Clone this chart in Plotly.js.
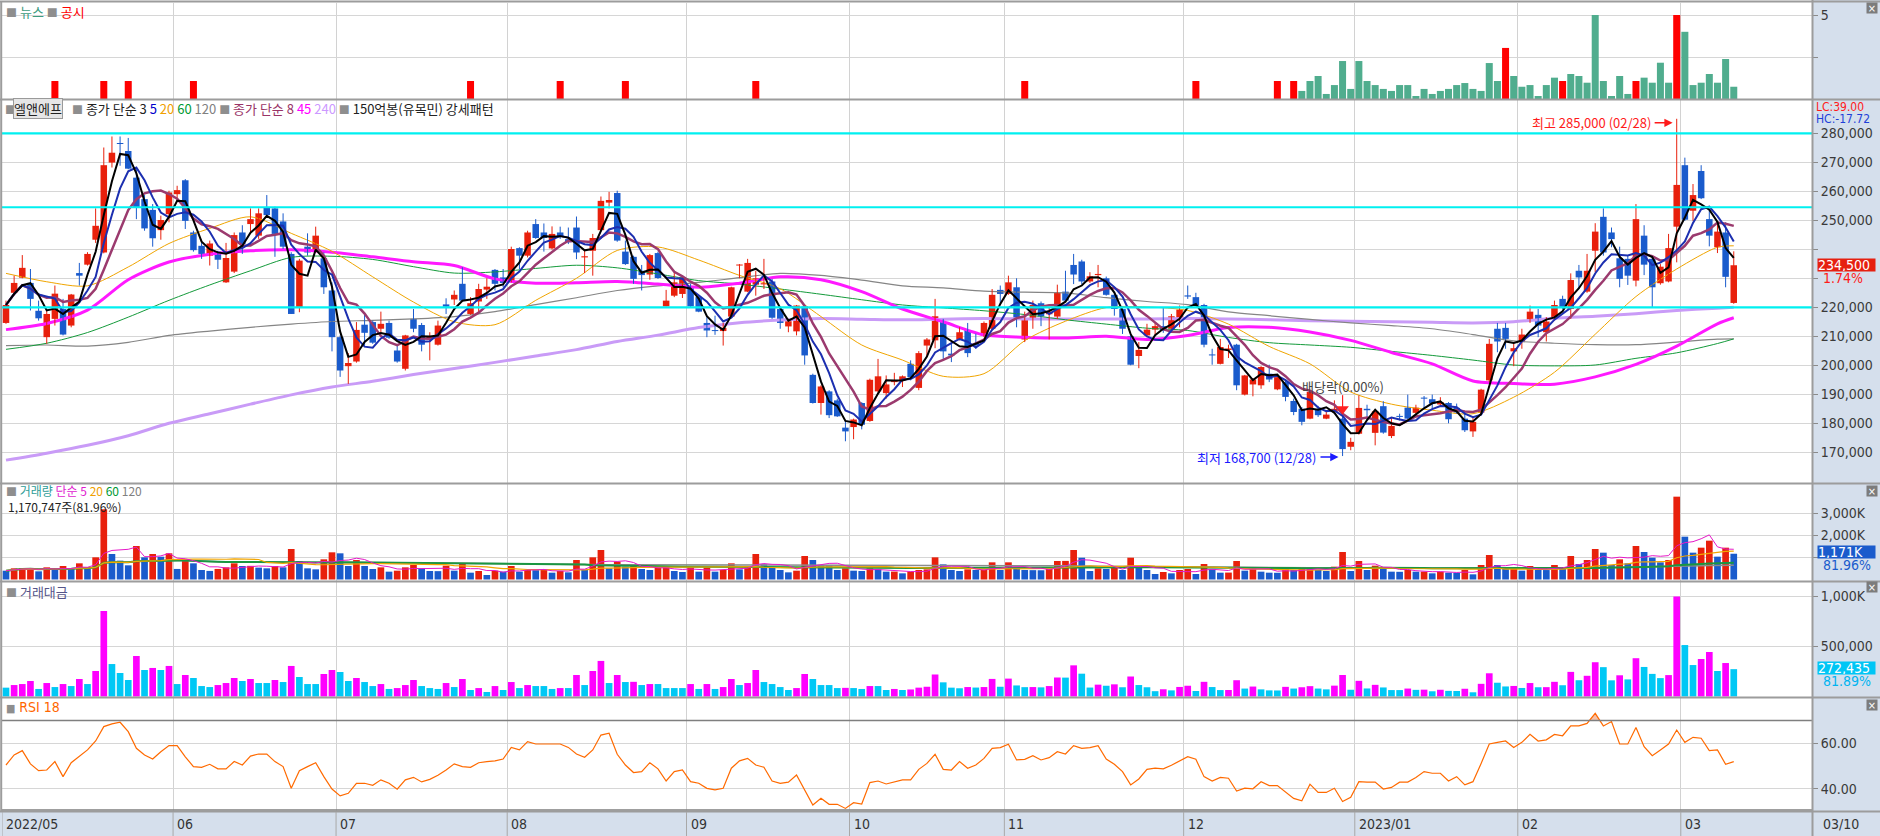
<!DOCTYPE html>
<html><head><meta charset="utf-8">
<script src="https://cdn.plot.ly/plotly-3.0.1.min.js"></script>
<style>html,body{margin:0;padding:0;background:#fff;}#chart{width:1880px;height:836px;}</style>
</head><body><div id="chart"></div>
<script>
// ---------------- DATA (prices in thousand won, volume in thousand shares, value in million won /1000) -------------
const monthStart = [0,21,41,62,84,104,123,145,166,186,206];
const monthLabels = ['2022/05','06','07','08','09','10','11','12','2023/01','02','03'];

const openP = [214.6,225.0,230.2,228.4,218.8,209.7,216.0,219.4,213.7,231.8,
234.7,243.3,238.9,269.9,276.6,273.9,264.7,257.3,253.6,246.6,
252.1,259.0,263.8,245.8,241.2,237.8,239.2,228.6,232.3,245.8,
248.7,244.7,254.4,254.1,249.6,238.4,220.0,240.9,239.5,236.9,
225.8,209.7,199.7,201.3,214.0,214.9,212.6,214.6,205.1,198.8,
216.0,213.9,208.9,207.1,221.0,222.7,228.1,217.7,222.0,226.1,
232.9,230.3,228.9,240.4,237.8,248.7,245.8,240.3,245.8,243.5,
247.5,237.2,239.5,246.6,256.1,259.4,239.2,237.4,232.6,231.3,
238.7,220.3,224.0,224.6,226.6,223.5,214.6,212.0,211.8,216.8,
234.4,225.4,227.8,227.9,228.9,219.4,213.4,211.7,220.3,196.7,
187.0,191.0,187.9,178.5,178.7,187.0,180.8,191.0,190.4,194.2,
194.8,200.5,192.2,206.8,208.6,214.9,204.0,208.9,212.2,207.7,
210.3,212.6,226.0,224.6,226.9,208.9,215.8,221.4,217.6,216.8,
225.4,234.6,235.8,228.9,231.1,230.0,224.3,219.4,210.0,203.2,
210.3,212.3,213.5,212.6,216.2,224.1,223.5,220.8,203.7,200.5,
205.3,207.1,189.9,193.4,193.1,197.1,191.7,194.2,187.7,185.0,
181.6,184.7,181.6,183.9,181.6,171.9,176.4,185.0,176.7,185.9,
175.6,182.4,185.4,183.6,188.8,188.3,186.5,187.0,185.3,181.6,
177.2,183.7,194.8,212.6,212.9,204.8,208.2,215.8,217.4,211.4,
216.0,222.9,219.4,232.6,225.4,239.5,251.2,245.8,236.9,236.7,
229.2,244.7,236.7,228.3,228.9,247.8,269.0,253.3,267.0,250.4,
240.7,245.8,221.5];
const highP = [222.3,230.9,238.0,233.2,222.3,218.9,227.5,222.9,224.6,235.3,
239.0,254.1,275.1,278.9,278.9,278.4,267.6,258.7,255.6,251.6,
260.2,261.9,264.2,246.4,242.4,243.0,239.5,242.2,245.8,248.3,
254.1,254.1,258.7,254.7,252.4,239.0,236.7,245.5,247.8,238.9,
228.6,210.3,204.2,214.9,217.7,215.4,218.5,215.4,206.8,210.5,
219.4,214.6,211.4,215.4,223.1,225.8,233.8,223.5,228.1,230.0,
233.2,233.2,240.9,240.7,246.4,250.4,248.9,247.9,247.8,247.5,
251.3,239.5,245.3,258.2,259.8,260.2,243.0,237.8,234.6,238.4,
239.2,226.0,232.1,230.9,228.1,224.0,216.6,217.1,214.6,227.1,
234.9,236.7,232.6,236.7,229.8,220.0,216.0,220.8,220.6,197.1,
193.1,191.4,188.5,181.0,181.6,187.3,195.4,202.2,196.5,197.4,
196.5,201.7,204.9,209.4,222.9,216.0,207.4,213.1,214.6,210.9,
215.1,226.3,227.5,230.9,230.0,218.5,222.3,222.0,220.0,227.8,
232.6,238.4,236.4,232.1,234.6,230.6,224.6,220.3,210.5,208.0,
214.3,214.9,219.7,217.7,220.6,227.5,225.0,221.2,205.7,209.1,
207.1,207.4,196.7,195.6,199.7,200.2,196.5,194.8,188.5,185.6,
191.4,186.0,184.5,187.9,183.9,175.0,189.6,186.4,184.5,187.6,
181.8,183.3,189.9,186.4,189.4,189.9,189.0,187.3,186.8,183.9,
182.2,191.9,209.1,214.6,214.6,208.0,212.6,220.6,219.4,216.6,
222.3,224.0,231.7,234.6,238.4,249.0,254.1,247.5,240.9,237.8,
255.6,248.3,237.2,234.9,245.3,285.0,271.6,262.5,269.0,253.9,
249.3,249.3,239.3];
const lowP = [214.3,224.0,230.0,218.9,215.4,207.4,213.7,210.3,213.1,227.5,
234.4,242.2,238.6,268.2,268.8,267.6,250.4,246.4,240.9,243.3,
249.3,256.7,247.0,239.2,236.7,234.4,233.2,228.4,231.8,238.4,
245.8,243.6,251.4,237.4,240.1,217.7,218.3,237.8,238.9,224.6,
204.8,196.0,193.6,200.9,206.8,207.4,211.4,209.1,200.9,198.2,
211.4,204.8,201.7,206.8,217.7,220.8,222.0,217.4,218.3,222.9,
225.8,226.9,228.6,233.2,237.2,243.6,239.2,239.9,243.6,241.8,
236.6,231.8,230.9,246.1,254.1,242.6,234.6,228.1,225.8,229.5,
229.8,220.3,223.5,223.2,220.0,218.3,209.7,210.5,206.8,216.6,
230.0,225.2,224.0,226.3,216.0,212.6,211.4,210.3,200.2,186.8,
183.0,181.8,182.2,173.8,174.5,177.9,180.5,190.6,188.5,193.1,
192.5,194.8,191.4,203.2,205.9,202.2,201.1,208.6,202.8,205.7,
209.7,212.3,221.2,224.3,213.1,208.0,212.6,213.5,208.9,216.0,
222.0,228.0,228.0,228.4,226.9,224.0,217.1,210.8,200.0,199.0,
209.7,210.5,211.2,212.3,213.1,222.9,220.4,206.2,200.2,200.3,
202.5,191.4,189.6,189.3,191.9,194.2,191.4,187.6,182.8,179.3,
181.4,182.2,181.4,183.7,168.7,170.7,176.1,181.0,172.4,176.4,
174.9,181.0,181.4,182.8,185.3,185.0,186.2,180.0,183.3,177.0,
175.3,183.3,194.2,204.5,205.7,199.7,205.7,214.6,209.7,208.2,
215.4,219.4,216.0,226.3,225.0,232.1,237.8,240.7,226.9,227.7,
227.2,231.1,220.0,227.8,228.6,235.5,249.8,249.8,257.3,241.0,
238.7,226.9,221.2];
const closeP = [220.8,228.4,233.6,222.9,216.2,217.7,224.7,210.6,224.4,230.9,
238.4,248.1,269.0,273.3,276.3,267.8,254.4,247.2,243.8,250.1,
259.6,260.4,249.8,239.7,238.4,242.0,236.4,237.0,244.9,241.8,
250.4,252.4,251.8,245.3,240.9,217.7,236.1,238.9,244.7,226.9,
209.7,198.2,200.8,212.2,211.2,207.8,214.3,209.5,201.3,210.3,
212.6,207.1,210.0,213.7,220.2,224.3,222.3,221.4,226.3,227.1,
228.1,228.4,240.1,237.8,245.8,243.9,243.9,245.3,244.4,242.4,
238.9,237.6,243.9,256.7,257.0,243.0,234.9,229.8,231.1,238.0,
230.1,222.3,228.6,230.3,220.3,218.5,212.0,211.8,212.9,226.9,
234.6,235.3,230.0,228.3,216.4,214.6,215.2,220.6,203.4,187.0,
192.7,182.8,182.4,177.2,181.3,179.5,195.0,196.2,193.4,194.6,
196.2,195.9,204.2,208.9,216.9,204.8,203.4,211.4,204.2,206.8,
214.6,224.3,224.6,228.6,215.8,216.2,220.8,216.9,218.5,225.0,
222.3,231.3,228.9,230.7,231.5,224.3,219.4,212.6,200.2,205.3,
212.3,213.5,212.0,216.9,219.2,223.7,220.6,207.1,203.4,206.3,
205.8,193.1,196.5,195.1,199.4,195.1,195.9,189.1,183.9,180.5,
190.8,182.8,183.0,185.0,171.1,173.6,185.3,184.5,184.1,176.8,
179.1,182.2,181.6,185.4,188.5,186.8,187.3,181.4,183.7,177.6,
180.5,191.6,207.4,208.2,209.1,205.9,210.6,218.5,213.7,215.1,
220.8,220.0,229.4,230.3,232.6,246.1,238.9,243.5,229.8,230.9,
250.4,234.7,226.9,234.0,240.4,262.2,250.2,258.7,257.6,244.7,
246.1,230.5,234.5];
const volumeK = [400,508,512,515,371,553,432,614,492,735,
508,1009,3191,1160,857,645,1523,1009,1160,1036,
1190,480,840,735,432,390,480,553,735,614,
620,540,508,614,553,1386,840,508,462,917,
1236,1190,614,886,614,477,553,356,401,553,
659,508,386,380,629,401,735,310,386,205,
401,356,614,356,432,425,462,310,386,325,
886,432,1009,1342,508,811,583,620,477,432,
538,583,386,341,553,356,538,356,432,735,
462,583,1160,689,553,432,325,401,1069,886,
659,650,432,508,401,386,508,462,356,360,
280,356,432,462,1008,689,432,386,462,432,
440,780,432,780,508,432,425,420,477,841,
845,1341,992,386,508,477,553,432,992,553,
432,250,341,280,432,477,250,705,462,310,
315,841,401,508,356,310,305,508,432,508,
538,432,386,583,1251,386,841,432,629,508,
356,350,432,356,360,280,356,310,300,432,
235,659,1114,659,480,508,401,614,432,430,
659,508,1069,705,886,1386,1220,659,917,735,
1523,1251,992,780,886,3765,1947,1220,1447,1765,
1039,1447,1171];
const tradeValueK = [88,114,124,154,75,134,94,124,104,174,
124,254,851,323,234,164,403,264,284,264,
304,124,214,184,104,94,114,134,184,154,
174,134,134,164,144,304,194,124,124,224,
264,244,154,184,144,104,124,75,84,114,
164,104,84,75,134,94,174,65,84,45,
104,65,144,84,114,104,104,75,84,84,
214,114,254,354,134,214,144,146,114,124,
124,84,84,84,124,75,124,75,94,174,
114,134,264,144,124,94,65,84,224,174,
114,114,84,86,84,75,104,104,65,75,
65,70,88,97,219,141,88,82,94,89,
94,175,97,178,110,93,94,91,104,189,
188,310,227,89,118,107,121,92,199,114,
92,53,72,61,95,107,55,146,94,64,
65,162,79,99,71,61,60,96,79,92,
103,79,71,108,214,67,156,80,116,90,
64,64,79,66,68,52,67,56,55,77,
42,126,231,137,100,105,85,134,92,93,
146,112,245,162,206,341,292,161,211,170,
381,294,225,183,213,995,512,313,373,443,
254,333,272];
const rsi18 = [50.5,54.9,56.8,51.0,48.0,48.3,52.0,45.4,51.5,54.4,
57.1,61.0,67.3,68.5,69.2,65.1,57.8,54.9,53.1,56.3,
59.0,59.0,54.1,49.8,49.5,50.8,48.8,48.8,52.0,50.5,
54.4,55.3,55.3,52.0,49.8,40.3,48.0,49.8,51.5,45.4,
40.0,37.0,38.1,42.5,42.5,41.6,44.0,42.5,39.9,44.0,
45.1,43.1,44.2,46.0,48.3,51.0,49.8,49.5,51.5,52.0,
52.3,53.1,58.2,57.1,60.7,59.7,59.7,60.0,59.7,58.2,
55.3,53.9,57.1,63.6,64.4,55.2,50.5,47.2,47.6,51.5,
48.8,43.5,47.6,48.3,43.2,42.5,40.3,39.6,40.3,49.1,
52.3,53.4,50.5,49.5,43.5,42.5,43.0,46.1,39.6,33.0,
35.9,33.3,33.3,31.5,34.0,33.4,42.8,43.5,42.2,43.2,
44.0,44.0,48.6,51.2,55.2,48.6,48.3,52.0,49.1,50.5,
53.4,57.8,58.1,59.6,52.7,53.0,54.6,52.7,53.7,56.3,
55.3,59.0,57.8,58.1,59.0,53.1,50.8,47.6,41.8,44.4,
48.6,49.1,48.8,50.4,52.3,54.1,53.0,45.4,43.5,45.1,
44.7,39.1,40.4,40.1,43.2,41.5,41.5,38.5,35.9,34.8,
42.1,38.5,38.5,40.3,34.5,36.4,43.2,43.0,43.0,40.0,
40.7,43.0,43.0,45.0,47.6,46.9,46.9,43.5,45.4,41.8,
43.2,51.2,59.7,60.4,61.0,58.2,60.4,63.9,61.0,61.5,
63.9,63.3,67.6,67.6,68.7,73.1,67.6,69.5,59.7,59.7,
66.9,58.5,54.6,57.1,59.7,65.8,60.4,62.6,62.2,56.8,
57.1,50.8,52.0];

// long moving averages at sample bars
const maSampleIdx = [0,5,10,15,20,25,30,35,40,45,50,55,60,65,70,75,80,85,90,95,100,105,110,115,120,125,130,135,140,145,150,155,160,165,170,175,180,185,190,195,200,205,210,212];
const ma20 = [231.7,228.8,227.4,233.9,242.0,247.2,251.2,245.5,239.3,230.5,221.8,215.0,214.0,222.4,230.0,239.6,240.8,236.3,231.0,226.4,216.8,207.0,201.8,196.2,197.1,208.5,215.2,219.9,220.1,218.9,214.2,206.5,200.5,190.8,186.6,184.5,183.3,189.0,197.6,210.7,223.7,233.2,240.7,241.2];
const ma45 = [212.3,214.4,219.0,229.5,235.6,238.3,239.5,239.8,239.0,237.4,235.7,234.4,229.8,228.3,228.5,228.9,228.0,226.9,228.3,230.5,229.5,225.4,219.4,215.0,210.5,209.7,209.4,210.0,208.9,210.3,213.0,213.1,211.5,208.6,204.4,200.5,194.6,193.7,193.5,196.0,200.3,206.6,214.3,216.4];
const ma60 = [205.5,207.6,211.3,216.6,222.4,227.7,232.6,237.2,237.6,236.5,234.0,231.8,232.2,233.4,234.5,233.6,231.5,229.2,228.0,226.3,224.5,222.6,220.8,219.8,218.8,217.5,215.7,214.2,212.8,212.0,209.6,207.8,207.0,206.2,204.8,203.4,201.8,200.1,199.8,200.1,202.4,204.3,207.5,209.1];
const ma120 = [206.8,207.0,206.6,207.9,210.3,211.8,213.1,214.2,215.1,215.5,216.0,216.8,218.5,220.9,223.3,225.8,227.4,228.6,230.2,231.7,231.0,229.4,227.4,226.7,225.6,225.2,225.0,223.3,222.0,220.9,218.4,217.1,215.8,214.6,213.7,212.6,210.6,208.4,207.6,207.1,207.1,208.0,209.0,209.1];
const ma240 = [167.3,169.7,172.4,175.7,180.0,183.3,186.6,189.8,192.5,194.5,196.8,198.9,201.0,203.2,205.4,208.2,210.4,213.0,214.7,215.6,216.1,215.9,215.7,215.9,216.1,216.0,216.0,216.0,216.0,216.1,216.0,215.7,215.4,215.2,215.0,214.8,214.6,215.0,216.2,216.9,217.8,218.9,219.7,220.0];

// horizontal reference lines (price, thousand won)
const levelLines = [280.0, 254.5, 220.0];

// news / disclosure counts (bar heights as drawn)
const noticeIdx = [6,12,15,23,57,68,76,92,125,146,156,158,184,191,200,205];
const noticeH   = [1.07,1.07,1.07,1.07,1.07,1.07,1.07,1.07,1.07,1.07,1.07,1.07,3.04,1.07,1.07,5.0];
const newsIdx = [159,160,161,162,163,164,165,166,167,168,169,170,171,172,173,174,175,176,177,178,179,180,181,182,183,
185,186,187,188,189,190,192,193,194,195,196,197,198,199,201,202,203,204,206,207,208,209,210,211,212];
const newsH = [0.48,1.07,1.37,0.30,0.83,2.26,0.60,2.26,1.07,0.83,0.60,0.48,0.83,0.83,0.18,0.60,0.30,0.48,0.60,0.83,0.95,0.60,0.48,2.14,1.07,
1.37,0.73,0.83,0.18,0.83,1.27,1.49,1.37,0.97,5.0,1.07,0.18,1.37,0.30,1.27,0.97,2.16,0.97,4.0,0.83,0.97,1.49,0.97,2.38,0.73];

const exDivIdx = 164;

// ---------------- CHART ----------------
const W = 1880, H = 836;
const n = closeP.length;
const idx = Array.from({length:n}, (_, i) => i);
const UP = '#e8200c', DN = '#1a5bcc';
const NUMFONT = "'Liberation Sans Narrow','DejaVu Sans Condensed','Arial Narrow',sans-serif";
const KFONT = "'Noto Sans CJK KR','Noto Sans',sans-serif";

function sma(arr, p) {
  return arr.map((_, i) => {
    const s = Math.max(0, i - p + 1); let t = 0;
    for (let k = s; k <= i; k++) t += arr[k];
    return t / (i - s + 1);
  });
}
const py = y => 1 - y / H;
const XR = [-0.49, 221.6];
const xDom = [2 / W, 1812 / W];

const traces = [];
// news panel
traces.push({type:'bar', x:newsIdx, y:newsH, width:0.86, marker:{color:'#50ad8e'}, xaxis:'x', yaxis:'y', hoverinfo:'skip'});
traces.push({type:'bar', x:noticeIdx, y:noticeH, width:0.86, marker:{color:'#ff0000'}, xaxis:'x', yaxis:'y', hoverinfo:'skip'});

// price panel: long MAs first
const lineTr = (x, y, color, width, shape) => ({type:'scatter', mode:'lines', x, y, xaxis:'x2', yaxis:'y2',
  line:{color, width, shape: shape || 'linear', smoothing: 0.8}, hoverinfo:'skip'});
traces.push(lineTr(maSampleIdx, ma240, '#c99bf7', 3, 'spline'));
traces.push(lineTr(maSampleIdx, ma120, '#858585', 1.2, 'spline'));
traces.push(lineTr(maSampleIdx, ma60, '#139a3a', 1, 'spline'));
traces.push(lineTr(maSampleIdx, ma45, '#ff19ff', 3, 'spline'));
traces.push(lineTr(maSampleIdx, ma20, '#f0a500', 1, 'spline'));

// candles: bodies as bars, wicks as lines
const isUp = idx.map(i => closeP[i] >= openP[i]);
const bodyBase = idx.map(i => Math.min(openP[i], closeP[i]));
const bodyH = idx.map(i => Math.max(Math.abs(closeP[i] - openP[i]), 0.35));
['up','dn'].forEach(dir => {
  const wx = [], wy = [];
  idx.forEach(i => { if ((dir === 'up') === isUp[i]) { wx.push(i, i, null); wy.push(lowP[i], highP[i], null); } });
  traces.push({type:'scatter', mode:'lines', x:wx, y:wy, xaxis:'x2', yaxis:'y2', line:{color: dir==='up'?UP:DN, width:1}, hoverinfo:'skip'});
});
traces.push({type:'bar', x:idx, base:bodyBase, y:bodyH, width:0.8, xaxis:'x2', yaxis:'y2',
  marker:{color: idx.map(i => isUp[i] ? UP : DN), line:{width:0}}, hoverinfo:'skip'});

// short MAs
traces.push(lineTr(idx, sma(closeP, 8), '#9b3a6e', 2.5));
traces.push(lineTr(idx, sma(closeP, 5), '#1c2fb0', 2));
traces.push(lineTr(idx, sma(closeP, 3), '#000000', 2));
// level lines
levelLines.forEach(v => traces.push({type:'scatter', mode:'lines', x:XR, y:[v, v], xaxis:'x2', yaxis:'y2', line:{color:'#00f0f0', width:2.2}, hoverinfo:'skip'}));
// ex-dividend marker: short red stem and triangle just above that bar's high
traces.push({type:'scatter', mode:'lines', x:[exDivIdx, exDivIdx], y:[highP[exDivIdx] + 1.2, highP[exDivIdx] + 5.8], xaxis:'x2', yaxis:'y2',
  line:{color:'#ff2020', width:1.2}, hoverinfo:'skip'});
traces.push({type:'scatter', mode:'markers', x:[exDivIdx], y:[highP[exDivIdx] + 1.0], xaxis:'x2', yaxis:'y2',
  marker:{symbol:'triangle-down', size:11, color:'#ff2020'}, hoverinfo:'skip'});

// volume panel
traces.push({type:'bar', x:idx, y:volumeK, width:0.82, xaxis:'x3', yaxis:'y3',
  marker:{color: idx.map(i => (i > 0 && volumeK[i] > volumeK[i-1]) ? UP : DN), line:{width:0}}, hoverinfo:'skip'});
[[120,'#8c8c8c',1.5],[60,'#1a9641',2],[20,'#f2a500',1.2],[5,'#e619c8',1]].forEach(([p,c,w]) =>
  traces.push({type:'scatter', mode:'lines', x:idx, y:sma(volumeK, p), xaxis:'x3', yaxis:'y3', line:{color:c, width:w}, hoverinfo:'skip'}));

// trading value panel
traces.push({type:'bar', x:idx, y:tradeValueK, width:0.82, xaxis:'x4', yaxis:'y4',
  marker:{color: idx.map(i => (i > 0 && tradeValueK[i] > tradeValueK[i-1]) ? '#ff00ff' : '#00c8f5'), line:{width:0}}, hoverinfo:'skip'});

// RSI panel: fill above 70
const fx = [], fy = [];
for (let i = 0; i < n - 1; i++) {
  const a = rsi18[i], b = rsi18[i+1];
  if (a > 70 || b > 70) {
    let xa = i, ya = a, xb = i + 1, yb = b;
    if (a <= 70) { xa = i + (70 - a) / (b - a); ya = 70; }
    if (b <= 70) { xb = i + (70 - a) / (b - a); yb = 70; }
    fx.push(xa, xa, xb, xb, xa, null); fy.push(70, ya, yb, 70, 70, null);
  }
}
traces.push({type:'scatter', mode:'lines', x:fx, y:fy, fill:'toself', fillcolor:'rgba(240,150,110,0.6)', line:{width:0}, xaxis:'x5', yaxis:'y5', hoverinfo:'skip'});
traces.push({type:'scatter', mode:'lines', x:idx, y:rsi18, xaxis:'x5', yaxis:'y5', line:{color:'#ff6a00', width:1.2}, hoverinfo:'skip'});

// ---------------- LAYOUT ----------------
const gridX = monthStart.map(v => v - 0.5);
const xa = (anchor) => ({domain:xDom, range:XR, anchor, showticklabels:false, tickvals:gridX, ticks:'',
  showgrid:true, gridcolor:'#d2d2d2', gridwidth:1, zeroline:false, showline:false, fixedrange:true, rangeslider:{visible:false}});
const ya = (domain, range, tickvals, ticktext, anchor) => ({domain, range, anchor, side:'right', tickvals, ticktext,
  showgrid:true, gridcolor:'#d6d6d6', gridwidth:1, zeroline:false, showline:false, ticks:'outside', ticklen:5, tickcolor:'#8a8a8a',
  tickfont:{family:NUMFONT, size:14, color:'#3a3a3a'}, fixedrange:true});

const priceTicks = []; for (let v = 170; v <= 280; v += 10) priceTicks.push(v);
const fmt = v => Math.round(v).toLocaleString('en-US');
const lastClose = closeP[n-1], prevClose = closeP[n-2];
// tick labels hidden where the current-price tag sits (as in the reference)
const priceTickText = priceTicks.map(v => Math.abs(v - lastClose) < 6 ? '' : fmt(v * 1000));

const layout = {
  width:W, height:H, margin:{l:0, r:0, t:0, b:0}, paper_bgcolor:'#ffffff', plot_bgcolor:'#ffffff',
  showlegend:false, hovermode:false, barmode:'overlay', font:{family:KFONT, size:13, color:'#222'},
  xaxis: xa('y'), xaxis2: xa('y2'), xaxis3: xa('y3'), xaxis4: xa('y4'), xaxis5: xa('y5'),
  yaxis: ya([py(99), py(3)], [0, 5.714], [2.5, 5], ['', '5'], 'x'),
  yaxis2: ya([py(483), py(100)], [159.41, 291.48], priceTicks, priceTickText, 'x2'),
  yaxis3: ya([py(581), py(484)], [-68, 4341], [1000, 2000, 3000], ['', '2,000K', '3,000K'], 'x3'),
  yaxis4: ya([py(697), py(582)], [-5, 1139.3], [500, 1000], ['500,000', '1,000K'], 'x4'),
  yaxis5: ya([py(811), py(698)], [30.37, 79.82], [40, 60], ['40.00', '60.00'], 'x5'),
  shapes: [], annotations: []
};

// backgrounds
layout.shapes.push({type:'rect', xref:'paper', yref:'paper', x0:1812/W, x1:1, y0:0, y1:1, fillcolor:'#d5dfec', line:{width:0}, layer:'below'});
layout.shapes.push({type:'rect', xref:'paper', yref:'paper', x0:0, x1:1, y0:0, y1:py(812), fillcolor:'#d5dfec', line:{width:0}, layer:'below'});
// RSI 30/70 lines
[30.8, 70].forEach(v => layout.shapes.push({type:'line', xref:'paper', yref:'y5', x0:xDom[0], x1:xDom[1], y0:v, y1:v, line:{color:'#7f7f7f', width:1.5}}));
// panel borders
[1.5, 99.5, 483.5, 581.5, 697.5, 811.5].forEach(y => layout.shapes.push({type:'line', xref:'paper', yref:'paper', x0:0, x1:1, y0:py(y), y1:py(y), line:{color:'#9c9c9c', width:2}}));
layout.shapes.push({type:'line', xref:'paper', yref:'paper', x0:1.2/W, x1:1.2/W, y0:py(812), y1:py(1.5), line:{color:'#9c9c9c', width:2}});
layout.shapes.push({type:'line', xref:'paper', yref:'paper', x0:1812.5/W, x1:1812.5/W, y0:0, y1:1, line:{color:'#9c9c9c', width:2}});
// month separators inside the date band
gridX.forEach(g => layout.shapes.push({type:'line', xref:'x5', yref:'paper', x0:Math.max(g, XR[0]), x1:Math.max(g, XR[0]), y0:0, y1:py(812), line:{color:'#a8a8a8', width:1}}));

const A = layout.annotations;
const ann = (xpx, ypx, text, o) => Object.assign({xref:'paper', yref:'paper', x:xpx / W, y:py(ypx), text, showarrow:false,
  xanchor:'left', yanchor:'middle', font:{family:KFONT, size:13, color:'#222'}}, o || {});
const sq = '<span style="color:#8e8e8e;font-size:11px">■</span>';

// panel titles
A.push(ann(4, 11, sq + ' <span style="color:#3d9c80">뉴스</span> ' + sq + ' <span style="color:#ff0000">공시</span>'));
A.push(ann(3, 109, sq));
A.push(ann(13, 109, '엘앤에프', {bgcolor:'#e6e6e6', bordercolor:'#9a9a9a', borderwidth:1, borderpad:0}));
A.push(ann(70, 109, sq + ' 종가 단순 3 <span style="color:#0000cc">5</span> <span style="color:#f0a000">20</span> <span style="color:#009933">60</span> <span style="color:#808080">120</span> ' +
  sq + ' <span style="color:#993366">종가 단순 8</span> <span style="color:#ff00ff">45</span> <span style="color:#cc99ff">240</span> ' + sq + ' 150억봉(유목민) 강세패턴'));
A.push(ann(4, 490, sq + ' <span style="color:#2e9c96">거래량</span> <span style="color:#e01ad0">단순 5</span> <span style="color:#f0a000">20</span> <span style="color:#009933">60</span> <span style="color:#808080">120</span>',
  {font:{family:KFONT, size:12, color:'#222'}}));
A.push(ann(6, 506, '1,170,747주(81.96%)', {font:{family:KFONT, size:12, color:'#222'}}));
A.push(ann(4, 591, sq + ' <span style="color:#55558a">거래대금</span>'));
A.push(ann(4, 707, sq + ' <span style="color:#ff6600">RSI 18</span>', {font:{family:NUMFONT, size:14, color:'#ff6600'}}));

// right-side labels
A.push(ann(1814, 106.5, 'LC:39.00', {font:{family:NUMFONT, size:12, color:'#ff1a1a'}}));
A.push(ann(1814, 118.5, 'HC:-17.72', {font:{family:NUMFONT, size:12, color:'#1f3fd8'}}));
A.push(ann(1817, 265, fmt(lastClose * 1000), {bgcolor:'#e62010', width:57, height:12, align:'left', borderpad:0, font:{family:NUMFONT, size:14, color:'#ffffff'}}));
A.push(ann(1821, 278, ((lastClose / prevClose - 1) * 100).toFixed(2) + '%', {font:{family:NUMFONT, size:14, color:'#ff1a1a'}}));
A.push(ann(1817, 552, fmt(volumeK[n-1]) + 'K', {bgcolor:'#1a5bcc', width:57, height:12, align:'left', borderpad:0, font:{family:NUMFONT, size:14, color:'#ffffff'}}));
A.push(ann(1821, 565, '81.96%', {font:{family:NUMFONT, size:14, color:'#1a5bcc'}}));
A.push(ann(1817, 668, '272,435', {bgcolor:'#00c6f5', width:57, height:12, align:'left', borderpad:0, font:{family:NUMFONT, size:14, color:'#ffffff'}}));
A.push(ann(1821, 681, '81.89%', {font:{family:NUMFONT, size:14, color:'#00b4f0'}}));
[8, 491, 587, 705].forEach(y => A.push(ann(1866, y, '×', {bgcolor:'#7c7c7c', width:10, height:10, align:'center', borderpad:0, font:{family:NUMFONT, size:11, color:'#ffffff'}})));

// date band labels
monthLabels.forEach((t, k) => A.push({xref:'x5', yref:'paper', x:Math.max(gridX[k], XR[0] + 0.01), y:py(823.5), text:t, showarrow:false, xanchor:'left', yanchor:'middle', xshift:2,
  font:{family:NUMFONT, size:14, color:'#333'}}));
A.push(ann(1821, 823.5, '03/10', {font:{family:NUMFONT, size:14, color:'#333'}}));

// high / low annotations
let hiIdx = 0, loIdx = 0;
idx.forEach(i => { if (highP[i] > highP[hiIdx]) hiIdx = i; if (lowP[i] < lowP[loIdx]) loIdx = i; });
A.push({xref:'x2', yref:'y2', x:hiIdx - 0.5, y:highP[hiIdx], yshift:-4, ax:-20, ay:0, axref:'pixel', ayref:'pixel', showarrow:true,
  arrowhead:2, arrowsize:1.1, arrowwidth:1.5, arrowcolor:'#ff1a1a', standoff:0, startstandoff:2, xanchor:'right',
  text:'최고 ' + fmt(highP[hiIdx] * 1000) + ' (02/28)', font:{family:KFONT, size:13, color:'#ff1a1a'}});
A.push({xref:'x2', yref:'y2', x:loIdx - 0.5, y:lowP[loIdx], yshift:-1, ax:-20, ay:0, axref:'pixel', ayref:'pixel', showarrow:true,
  arrowhead:2, arrowsize:1.1, arrowwidth:1.5, arrowcolor:'#1a1aff', standoff:0, startstandoff:2, xanchor:'right',
  text:'최저 ' + fmt(lowP[loIdx] * 1000) + ' (12/28)', font:{family:KFONT, size:13, color:'#1a1aff'}});
A.push({xref:'x2', yref:'y2', x:exDivIdx, y:highP[exDivIdx], yshift:25, showarrow:false, xanchor:'center', yanchor:'middle',
  text:'배당락(0.00%)', font:{family:KFONT, size:13, color:'#444'}});

Plotly.newPlot('chart', traces, layout, {staticPlot:true, displayModeBar:false});
</script>
</body></html>
